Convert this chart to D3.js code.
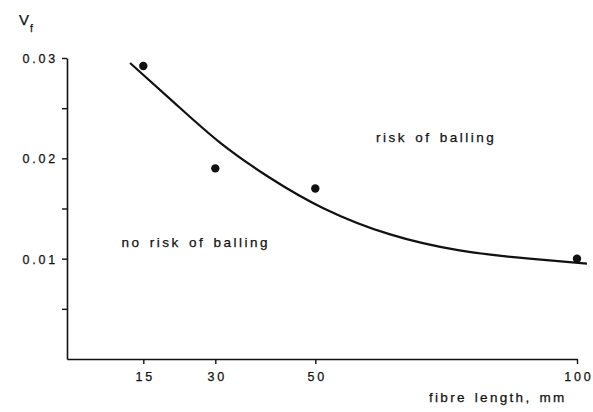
<!DOCTYPE html>
<html>
<head>
<meta charset="utf-8">
<script src="https://cdn.jsdelivr.net/npm/d3@7/dist/d3.min.js"></script>
<style>
  html, body { margin: 0; padding: 0; background: #fff; }
  svg text { font-family: "Liberation Sans", Arial, Helvetica, sans-serif; fill: #111; stroke: #111; stroke-width: 0.25px; }
</style>
</head>
<body>
<svg id="chart" width="593" height="412"></svg>
<script>
// ---- data ----
const fibreLength = [15, 30, 50, 100];          // mm
const vfMeasured  = [0.0292, 0.0190, 0.0170, 0.0100];
const curveLength = [12.4, 21.6, 30.9, 40.9, 50.9, 64.3, 77.7, 88.5, 101.9];
const curveVf     = [0.0295, 0.0255, 0.0214, 0.0180, 0.0150, 0.0122, 0.0107, 0.0101, 0.0095];
const xTicks = [15, 30, 50, 100];
const yTicks = [0.005, 0.01, 0.015, 0.02, 0.025, 0.03];
const yLabelled = [0.01, 0.02, 0.03];

const svg = d3.select("#chart");

// the original hand-drawn axis is slightly non-uniform; a polylinear scale reproduces its tick spacing
const x = d3.scaleLinear()
  .domain([0, 15, 30, 50, 100])
  .range([67, 143.3, 215.3, 315.3, 577]);
const y = d3.scaleLinear().domain([0, 0.03]).range([359, 58]);

const ink = "#111";

// y axis
const yAxis = d3.axisLeft(y)
  .tickValues(yTicks)
  .tickSize(5)
  .tickSizeOuter(0)
  .tickPadding(4)
  .tickFormat(d => yLabelled.some(v => Math.abs(v - d) < 1e-9) ? d3.format(".2f")(d) : "");
const gy = svg.append("g").attr("transform", "translate(67,0)").call(yAxis);
gy.select(".domain").attr("stroke", ink).attr("stroke-width", 1.6);
gy.selectAll(".tick line").attr("stroke", ink).attr("stroke-width", 1.4);
gy.selectAll(".tick text")
  .attr("font-size", 12.5).attr("letter-spacing", "2.8px").attr("fill", ink)
  .attr("dy", "0.36em");

// x axis
const xAxis = d3.axisBottom(x)
  .tickValues(xTicks)
  .tickSize(5)
  .tickSizeOuter(0)
  .tickPadding(8)
  .tickFormat(d3.format("d"));
const gx = svg.append("g").attr("transform", "translate(0,359)").call(xAxis);
gx.select(".domain").attr("stroke", ink).attr("stroke-width", 1.6);
gx.selectAll(".tick line").attr("stroke", ink).attr("stroke-width", 1.4);
gx.selectAll(".tick text")
  .attr("font-size", 12.5).attr("letter-spacing", "2.8px").attr("fill", ink)
  .attr("dx", "1.4px");

// fitted curve
const line = d3.line()
  .x((d, i) => x(curveLength[i]))
  .y((d, i) => y(curveVf[i]))
  .curve(d3.curveBasis);
svg.append("path")
  .datum(curveVf)
  .attr("d", line)
  .attr("fill", "none")
  .attr("stroke", ink)
  .attr("stroke-width", 2.2);

// measured points
svg.selectAll("circle.pt")
  .data(fibreLength)
  .join("circle")
  .attr("class", "pt")
  .attr("cx", d => x(d))
  .attr("cy", (d, i) => y(vfMeasured[i]))
  .attr("r", 4.2)
  .attr("fill", ink);

// y title V_f
const vt = svg.append("text").attr("x", 19).attr("y", 25).attr("font-size", 15);
vt.append("tspan").text("V");
vt.append("tspan").attr("font-size", 10.5).attr("dy", 7).attr("dx", 1).text("f");

// annotations
svg.append("text").attr("x", 376).attr("y", 142)
  .attr("font-size", 13.5).attr("letter-spacing", "2.5px").attr("word-spacing", "2px")
  .text("risk of balling");
svg.append("text").attr("x", 121.5).attr("y", 247)
  .attr("font-size", 13.5).attr("letter-spacing", "2.5px").attr("word-spacing", "2px")
  .text("no risk of balling");

// x title
svg.append("text").attr("x", 429).attr("y", 402)
  .attr("font-size", 13.5).attr("letter-spacing", "2.3px").attr("word-spacing", "2px")
  .text("fibre length, mm");
</script>
</body>
</html>
